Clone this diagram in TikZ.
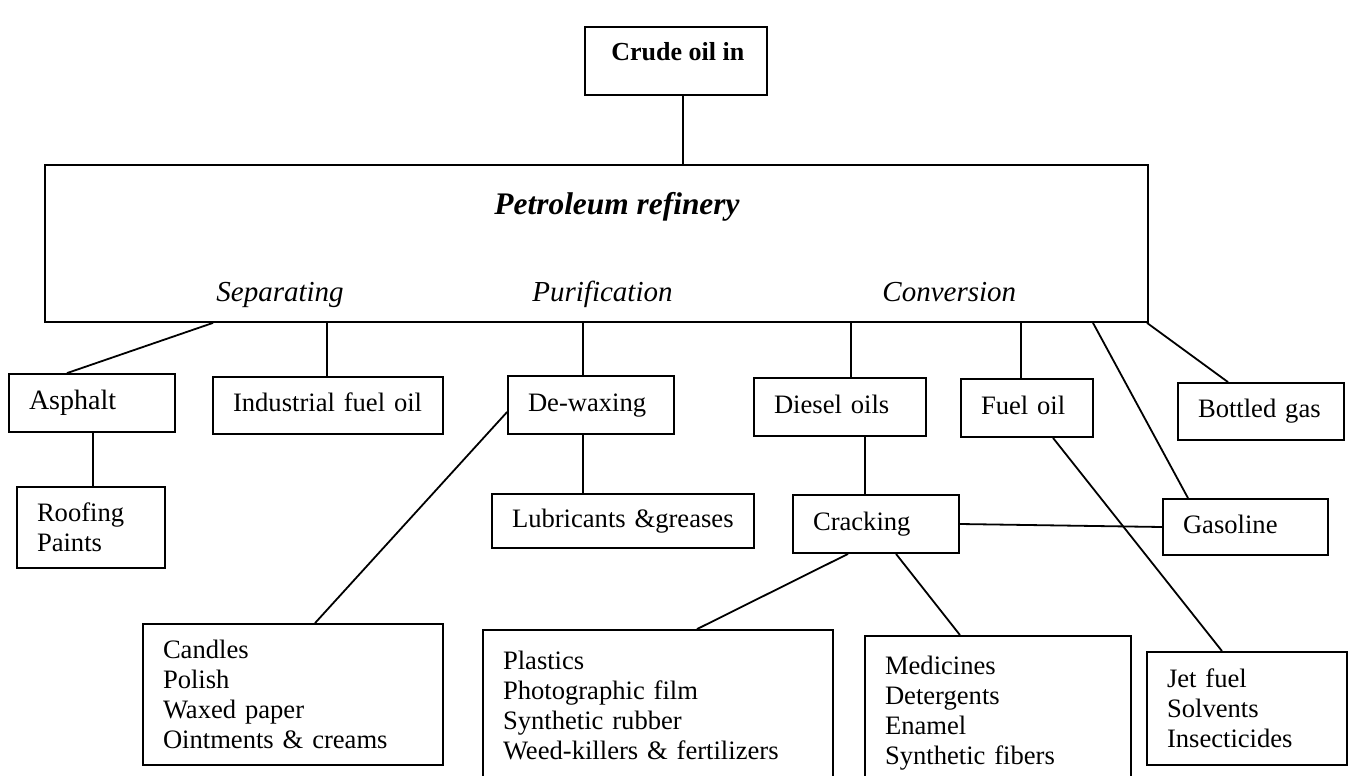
\documentclass[tikz,border=0pt]{standalone}
\usepackage{fontspec}
\setmainfont{Liberation Serif}
\usetikzlibrary{calc}

\begin{document}
\begin{tikzpicture}[
  x=0.5pt, y=-0.5pt,
  font=\fontsize{13.3}{15}\selectfont,
  box/.style={draw=black, line width=0.9pt, inner xsep=10pt, inner ysep=2pt, align=left},
  oneline/.style={text height=0.75em, text depth=0.15em},
  link/.style={draw=black, line width=0.9pt},
  head/.style={inner sep=0pt, anchor=base west, font=\fontsize{14.5}{16}\selectfont\itshape}
]
  \useasboundingbox (0,0) rectangle (1349,776);
  \clip (0,0) rectangle (1349,776);

  % Entrada y refineria
  \node[box, minimum width=91pt, minimum height=34pt] (crude) at (676,61) {};
  \node[inner sep=0pt, anchor=base west, font=\fontsize{13}{15}\selectfont\bfseries] (crudetxt) at (611,60) {Crude oil in};
  \node[box, minimum width=551.5pt, minimum height=78.5pt] (refinery) at (596.5,243.5) {};
  \node[inner sep=0pt, font=\fontsize{15.7}{19}\selectfont\bfseries\itshape] (title) at (617,207) {Petroleum refinery};
  \node[head] (sep) at (216,301) {Separating};
  \node[head] (pur) at (532,301) {Purification};
  \node[head] (conv) at (882,301) {Conversion};

  % Productos de una linea
  \foreach \n/\x/\y/\w/\h/\txt in {
    asphalt/92/403/63/29/{\fontsize{14}{16}\selectfont Asphalt},
    industrial/328/405.5/95/28.5/{Industrial fuel oil},
    dewax/591/405/63/29/{De-waxing},
    lubric/623/521/111/27/{Lubricants \&greases},
    diesel/840/407/66/29/{Diesel oils},
    fueloil/1027/408/46/29/{Fuel oil},
    bottled/1261/411.5/63/28.5/{Bottled gas},
    cracking/876/524/63/29/{Cracking},
    gasoline/1245.5/527/62.5/28/{Gasoline}}
    \node[box, oneline, text width=\w pt, minimum height=\h pt] (\n) at (\x,\y) {\txt};

  % Productos de varias lineas
  \foreach \n/\x/\y/\w/\h/\txt in {
    roofing/91/527.5/54/40.5/{Roofing\\Paints},
    candles/293/694.5/130/70.5/{Candles\\Polish\\Waxed paper\\Ointments \& creams},
    plastics/658/705/155/75/{Plastics\\Photographic film\\Synthetic rubber\\Weed-killers \& fertilizers},
    medicines/998/713/113/77/{Medicines\\Detergents\\Enamel\\Synthetic fibers},
    jet/1247/708.5/80/56.5/{Jet fuel\\Solvents\\Insecticides}}
    \node[box, text width=\w pt, minimum height=\h pt] (\n) at (\x,\y) {\txt};

  % Salidas de la refineria
  \foreach \n/\x in {rsep/213, rind/327, rpur/583, rdies/851, rfuel/1021, rgas/1093, rbot/1147}
    \coordinate (\n) at (refinery.south -| \x,0);

  % Lineas
  \coordinate (cin) at ($(crude.south)+(7,0)$);
  \draw[link] (cin) -- (cin |- refinery.north);
  \draw[link] (rsep) -- (asphalt.north -| 67,0);
  \draw[link] (asphalt.south -| 93,0) -- (roofing.north -| 93,0);
  \draw[link] (rind) -- (rind |- industrial.north);
  \draw[link] (rpur) -- (rpur |- dewax.north);
  \draw[link] (dewax.south -| 583,0) -- (lubric.north -| 583,0);
  \draw[link] (dewax.west |- 0,412) -- (candles.north -| 315,0);
  \draw[link] (rdies) -- (rdies |- diesel.north);
  \draw[link] (diesel.south -| 865,0) -- (cracking.north -| 865,0);
  \draw[link] (rfuel) -- (rfuel |- fueloil.north);
  \draw[link] (fueloil.south -| 1053,0) -- (jet.north -| 1222,0);
  \draw[link] (rgas) -- (gasoline.north -| 1188,0);
  \draw[link] (rbot) -- (bottled.north -| 1228,0);
  \draw[link] (cracking.east) -- (gasoline.west);
  \draw[link] (cracking.south -| 848,0) -- (plastics.north -| 697,0);
  \draw[link] (cracking.south -| 896,0) -- (medicines.north -| 960,0);
\end{tikzpicture}
\end{document}
